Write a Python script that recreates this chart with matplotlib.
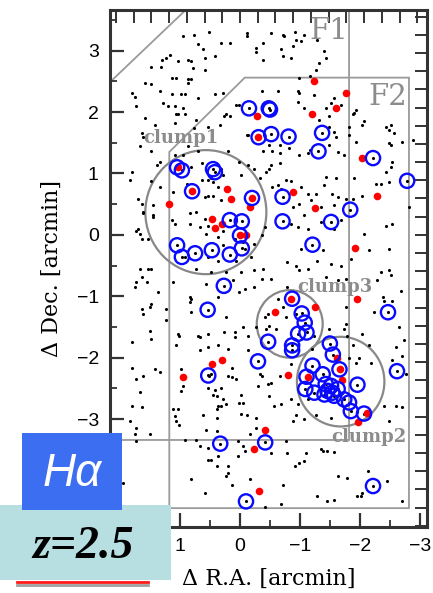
import numpy as np
import matplotlib
matplotlib.use('Agg')
import matplotlib.pyplot as plt
from matplotlib.patches import Circle, Polygon, Rectangle
from matplotlib.lines import Line2D

# galaxy positions [arcmin]
black_x = [0.51,-0.11,-0.11,0.76,0.95,0.31,0.17,0.70,-0.38,-0.27,-0.27,0.62,1.17,1.23,1.31,0.59,0.42,0.87,0.81,1.03,1.49,1.32,0.78,0.59,-0.38,
           1.14,1.06,0.87,0.81,1.59,0.87,1.48,1.34,1.81,1.76,1.14,0.98,0.92,0.42,0.28,0.70,1.28,1.73,1.20,1.09,0.95,1.06,1.03,0.92,1.59,0.73,1.42,1.09,0.76,0.53,0.34,0.23,1.64,1.62,
           -0.36,0.01,0.06,0.26,0.16,-0.11,-0.13,-0.38,
           1.67,1.48,1.09,0.95,0.87,0.70,1.34,1.39,1.81,1.84,1.48,0.81,0.64,0.31,0.28,0.20,0.01,-0.02,-0.13,-0.24,-0.33,-0.44,0.64,0.48,
           -0.52,-0.71,-0.74,-0.91,-1.07,-0.93,-1.02,-0.88,-0.68,-0.71,-0.85,-1.29,-1.41,-1.43,-1.32,-1.27,-0.99,-1.16,-0.63,-0.96,-0.99,-1.24,-0.96,-1.07,-1.57,-1.52,-1.68,-1.43,-1.49,-1.32,-1.49,-1.57,-1.60,-1.49,-1.63,-1.74,-0.99,-1.13,-1.16,-0.66,-0.49,-0.54,-0.66,-0.82,
           -1.88,-1.93,-1.91,-1.82,-1.82,-2.07,-2.04,-1.93,-2.43,-2.52,-2.49,-2.57,-2.49,-2.52,-2.71,-2.88,-2.54,-2.52,-2.43,-1.91,-1.43,-1.60,-0.77,-0.85,-0.49,-0.52,-0.66,
           1.34,1.12,0.89,1.70,1.64,1.45,1.62,1.62,1.45,1.45,1.70,1.73,1.67,1.64,1.53,1.14,1.09,0.84,0.73,0.59,0.53,0.45,0.37,0.31,0.59,0.53,0.84,0.56,0.37,0.28,0.67,0.45,0.53,
           0.92,0.53,0.37,0.28,0.09,-0.05,-0.08,0.06,-0.19,-0.24,-0.36,-0.41,-0.02,0.23,0.48,0.73,1.67,1.53,1.48,1.64,1.73,1.76,1.56,1.37,1.12,0.56,0.84,0.81,0.37,-0.08,-0.24,-0.36,-0.38,-0.24,0.12,0.01,
           1.64,1.62,1.51,1.48,1.23,1.23,1.51,1.48,1.01,1.03,0.70,0.67,0.53,0.26,0.23,-0.05,0.09,0.09,-0.13,-0.27,-0.44,-0.41,-0.47,0.84,0.81,0.67,0.53,0.37,0.20,-0.13,1.06,1.81,
           -0.54,-0.63,-0.68,-1.02,-1.13,-1.27,-1.41,-1.54,-1.63,-1.57,-1.35,-1.18,-0.99,-0.88,-1.07,-0.85,-0.96,-1.13,-1.35,-1.57,-1.68,-1.77,-1.88,-2.04,-2.27,-2.35,-2.49,-2.82,-2.54,-2.43,-2.07,
           -1.02,-1.38,-1.29,-0.79,-0.93,-0.99,-1.13,-1.52,-1.68,-1.43,-1.63,-1.77,-1.85,-2.16,-2.49,-2.35,-2.49,-2.52,-2.29,-2.68,-0.52,-0.79,-1.77,-2.38,-2.41,-2.54,-2.23,-2.66,-1.77,-1.74,-1.79,-1.49,-2.04,-2.16,-1.88,-2.60,-2.74,-0.63,-0.71,-0.77,-0.93,-0.99,-0.49,-0.60,-1.24,-1.21,
           1.81,1.62,1.73,1.42,1.34,1.67,1.81,1.64,1.84,1.73,1.76,1.51,1.74,0.99,0.95,0.98,1.12,1.03,1.09,1.06,1.01,0.92,0.73,0.67,0.53,0.62,0.39,0.37,0.31,0.23,0.39,0.39,0.56,0.53,0.42,0.45,0.39,0.31,0.28,0.20,0.14,0.06,0.14,0.01,-0.05,-0.02,-0.02,-0.11,-0.27,-0.27,-0.16,-0.33,-0.36,-0.30,
           0.03,-0.05,-0.08,0.03,0.53,0.48,0.37,0.39,0.20,0.20,0.23,0.14,-0.16,0.81,0.59,-0.41,1.95,0.51,0.48,
           -0.85,-0.66,-0.52,-0.46,-0.49,-0.57,-0.68,-0.85,-0.96,-0.93,-0.88,-1.07,-1.13,-1.27,-1.52,-0.77,-0.79,-1.10,-1.07,-0.99,-1.35,-1.38,-1.46,-1.57,-0.91,-0.52,-0.71,-1.29,-1.46,-1.57,-0.68,-1.63,-1.79,-1.96,-2.04,-2.02,-2.13,-2.46,-2.71,-2.41,-2.60,-2.49,-2.71,-2.77,-2.54,-2.71,-1.82,-1.99,-2.18,-1.93]
black_y = [3.31,3.29,3.23,3.26,3.23,3.12,3.12,3.10,3.12,3.04,2.98,3.02,2.93,2.88,2.85,2.88,2.91,2.85,2.83,2.83,2.73,2.73,2.72,2.69,2.85,
           2.56,2.56,2.53,2.53,2.47,2.47,2.45,2.35,2.31,2.25,2.29,2.29,2.29,2.29,2.31,2.23,2.15,2.09,2.09,2.09,2.06,1.96,1.96,1.96,1.90,1.87,1.79,1.82,1.74,1.76,1.79,1.96,1.66,1.60,
           2.35,2.12,2.12,1.93,1.93,1.63,1.63,1.36,
           1.44,1.36,1.30,1.30,1.44,1.36,1.19,1.14,1.03,0.89,0.87,1.11,1.17,1.08,0.98,1.36,1.19,0.98,1.14,1.08,0.92,1.03,0.89,0.92,
           3.29,3.26,3.23,3.31,3.26,3.18,3.15,3.07,3.02,2.91,2.88,3.18,2.99,2.88,2.80,2.69,2.55,2.58,2.34,2.34,2.31,2.28,2.17,2.06,2.23,2.15,2.12,2.06,1.93,1.87,1.76,1.68,1.60,1.47,1.35,1.30,1.30,1.33,1.38,1.47,1.47,1.36,1.33,1.41,
           1.96,2.04,1.98,1.76,1.63,1.85,1.79,1.52,1.76,1.79,1.71,1.66,1.49,1.47,1.52,1.55,1.19,1.11,1.03,0.92,0.95,0.92,0.90,0.87,1.08,1.14,1.17,
           0.78,0.70,0.83,0.59,0.51,0.48,0.37,0.35,0.32,0.29,0.10,0.07,0.02,-0.06,-0.06,0.24,0.18,0.35,0.37,0.62,0.64,0.64,0.78,0.56,0.26,0.15,0.18,0.02,-0.04,0.07,0.13,0.86,0.89,
           -0.36,-0.36,-0.42,-0.17,-0.06,-0.12,-0.23,-0.42,-0.36,-0.15,-0.01,0.13,-0.61,-0.61,-0.61,-0.55,-0.55,-0.55,-0.55,-0.69,-0.77,-0.85,-0.77,-0.93,-0.77,-0.80,-1.01,-1.04,-1.01,-0.88,-0.85,-0.72,-0.55,-0.58,-0.74,-0.93,
           -1.20,-1.29,-1.18,-1.12,-1.20,-1.39,-1.56,-1.69,-1.64,-1.61,-1.64,-1.67,-1.61,-1.59,-1.34,-1.50,-1.59,-1.67,-1.64,-1.50,-1.53,-1.34,-1.29,-1.10,-1.26,-1.88,-1.83,-1.80,-1.86,-1.88,-1.80,-1.75,
           0.78,0.81,0.75,0.78,0.67,0.67,0.81,0.67,0.62,0.48,0.45,0.56,0.51,0.45,0.32,0.18,0.13,0.10,0.21,0.10,0.24,0.59,0.59,0.64,0.83,0.83,0.86,0.45,0.18,0.15,0.02,
           -0.23,-0.25,-0.42,-0.44,-0.50,-0.58,-0.55,-0.47,-0.50,-0.69,-0.74,-0.72,-0.39,-0.25,-0.23,-0.61,-0.58,-0.66,-0.74,-0.91,-0.72,-0.85,-1.18,-1.01,-1.07,-1.07,-1.26,-1.50,-1.45,-1.53,-1.64,-1.53,-1.61,-1.80,-1.80,-1.83,-1.72,-1.04,-1.18,-1.34,-1.29,-1.50,-1.48,-1.53,-1.64,-1.86,
           -2.16,-2.30,-2.35,-2.19,-2.24,-2.56,-2.79,-2.80,-3.03,-3.14,-3.24,-3.24,-3.35,-2.18,-2.46,-2.54,-2.83,-2.84,-2.95,-3.03,-3.10,-3.34,-3.34,-3.44,-3.47,-2.93,-2.84,-2.78,-2.78,-2.76,-2.98,-3.19,-3.17,-2.49,-2.52,-2.60,-2.62,-2.49,-2.68,-2.30,-2.32,-2.35,-2.16,-2.73,-2.73,-2.61,-2.91,-2.93,-2.98,-3.14,-3.25,-2.27,-2.30,-2.46,
           -3.36,-3.44,-3.52,-3.60,-3.66,-3.66,-3.60,-3.76,-3.77,-3.88,-3.93,-4.07,-3.98,-3.98,-4.20,-4.43,-4.04,-2.30,-2.27,
           -2.11,-2.30,-2.41,-2.43,-2.62,-2.79,-2.76,-2.68,-2.76,-2.93,-3.03,-3.00,-2.68,-2.93,-2.98,-3.36,-3.55,-3.55,-3.68,-3.71,-3.49,-3.52,-3.52,-3.54,-3.76,-3.55,-4.07,-4.26,-4.34,-4.31,-4.39,-3.93,-3.96,-4.26,-4.20,-4.26,-3.85,-4.00,-4.34,-2.79,-2.79,-3.03,-2.81,-2.27,-2.03,-1.97,-2.00,-2.00,-2.08,-2.08]

# H-alpha emitters (blue circles)
ha_x = [1.05,0.97,0.45,0.42,0.80,-0.20,0.17,-0.03,0.00,1.05,0.97,0.75,0.47,0.17,-0.03,
        -0.15,-0.48,-0.50,-0.31,-0.52,-0.81,-1.37,-1.31,-2.22,-2.79,-0.71,-0.71,-1.52,-1.84,-1.21,
        0.27,0.54,-0.87,-1.03,-1.08,-1.11,-0.97,-0.47,-0.87,-0.87,-0.30,-2.47,-1.50,-1.55,
        -1.21,-1.38,-1.66,-1.11,-1.96,-1.09,-1.24,-1.43,-1.52,-1.46,-1.54,-1.63,-1.41,-1.57,-1.74,-1.82,-1.85,-2.07,-2.62,
        0.53,0.33,-0.42,-0.10,-2.22]
ha_y = [1.10,1.05,1.07,1.02,0.71,0.60,0.24,0.22,-0.01,-0.17,-0.36,-0.30,-0.25,-0.32,-0.22,
        2.06,2.06,2.04,1.59,1.64,1.60,1.66,1.36,1.25,0.88,0.62,0.22,0.21,0.41,-0.16,
        -0.83,-1.22,-1.04,-1.28,-1.43,-1.59,-1.61,-1.74,-1.80,-1.88,-2.06,-1.26,-1.77,-1.95,
        -2.13,-2.27,-2.19,-2.31,-2.44,-2.51,-2.57,-2.43,-2.46,-2.54,-2.57,-2.51,-2.60,-2.62,-2.68,-2.73,-2.87,-2.91,-2.22,
        -2.29,-3.40,-3.38,-4.34,-4.09]

# spectroscopic members (red dots)
spec_x = [-0.28,1.03,0.80,0.22,0.15,-0.20,-0.17,1.18,0.47,0.42,0.30,0.00,-0.10,-0.30,-1.24,-1.77,-1.60,-1.21,-2.04,
          -0.88,-1.26,-2.28,-1.92,-0.85,-0.58,-1.25,-1.95,-1.62,-1.67,-1.13,-1.70,-0.80,-2.12,-1.97,0.95,0.47,0.30,
          -0.41,-0.24,-0.32]
spec_y = [1.94,1.10,0.71,0.74,0.58,0.60,0.45,0.50,0.25,0.11,0.17,-0.01,-0.01,1.59,2.51,2.31,2.06,1.96,1.25,
          0.70,0.44,0.63,-0.21,-1.04,-1.26,-1.18,-1.05,-2.01,-2.19,-2.32,-2.37,-2.28,-2.90,-3.04,-2.31,-2.11,-2.04,
          -3.17,-3.48,-4.17]

# field outlines and clump circles
f1_x = [2.5, 0.65, -1.82, -1.82, 2.5]
f1_y = [2.18, 3.9, 3.9, -3.34, -3.34]
f2_x = [-0.08, -2.82, -2.82, 1.18, 1.18]
f2_y = [2.56, 2.56, -4.45, -4.45, 1.35]
clump_names = ['clump1', 'clump2', 'clump3']
clump_cx = [0.57, -1.68, -0.83]
clump_cy = [0.37, -2.39, -1.45]
clump_r = [1.01, 0.73, 0.55]
clump_lx = [0.98, -2.15, -1.58]
clump_ly = [1.58, -3.29, -0.85]

fig = plt.figure(figsize=(4.33, 5.93), dpi=100)
ax = fig.add_axes([0.254, 0.111, 0.732, 0.872])

gray = '#9a9a9a'
ax.add_patch(Polygon(list(zip(f1_x, f1_y)), closed=True, fill=False, ec=gray, lw=1.3, zorder=1))
ax.add_patch(Polygon(list(zip(f2_x, f2_y)), closed=True, fill=False, ec=gray, lw=1.3, zorder=1))
for i in range(len(clump_names)):
    ax.add_patch(Circle((clump_cx[i], clump_cy[i]), clump_r[i], fill=False, ec='#888888', lw=1.6, zorder=1))
    ax.text(clump_lx[i], clump_ly[i], clump_names[i], color='#8c8c8c', fontsize=13, fontweight='bold',
            family='DejaVu Serif', ha='center', va='center', zorder=2)
ax.text(-1.48, 3.32, 'F1', color='#8c8c8c', fontsize=21, family='DejaVu Serif', ha='center', va='center')
ax.text(-2.47, 2.24, 'F2', color='#8c8c8c', fontsize=21, family='DejaVu Serif', ha='center', va='center')

ax.scatter(black_x, black_y, s=5, c='black', linewidths=0, zorder=3)
ax.scatter(ha_x, ha_y, s=5, c='black', linewidths=0, zorder=3)
ax.scatter(spec_x, spec_y, s=30, c='#ff0000', linewidths=0, zorder=4)
ax.scatter(ha_x, ha_y, s=105, facecolors='none', edgecolors='#0a0aff', linewidths=1.7, zorder=5)

ax.set_xlim(2.17, -3.12)
ax.set_ylim(-4.76, 3.66)
ax.set_xticks([1, 0, -1, -2, -3])
ax.set_yticks([-3, -2, -1, 0, 1, 2, 3])
ax.set_xticks(np.arange(-3, 2.01, 0.5), minor=True)
ax.set_yticks(np.arange(-4.5, 3.51, 0.5), minor=True)
ax.tick_params(which='major', direction='in', length=10, width=1.6, color='#333333',
               labelsize=14, pad=8, top=False, right=False)
ax.tick_params(which='minor', direction='in', length=5, width=1.3, color='#333333', top=False, right=False)
for lab in ax.get_xticklabels() + ax.get_yticklabels():
    lab.set_family('Liberation Sans')
for sp in ax.spines.values():
    sp.set_linewidth(2.2)
    sp.set_color('#333333')

# physical-scale ticks on top / right
step = 0.296
secx = ax.secondary_xaxis('top')
secx.set_xticks(np.arange(-10, 8) * step)
secx.tick_params(direction='in', length=9, width=1.4, color='#333333', labeltop=False)
secx.set_xticklabels([])
secy = ax.secondary_yaxis('right')
secy.set_yticks(np.arange(-16, 13) * step)
secy.tick_params(direction='in', length=9, width=1.4, color='#333333', labelright=False)
secy.set_yticklabels([])
for s in [secx, secy]:
    for sp in s.spines.values():
        sp.set_visible(False)

ax.set_xlabel('Δ R.A. [arcmin]', family='DejaVu Serif', fontsize=16, labelpad=9)
ax.set_ylabel('Δ Dec. [arcmin]', family='DejaVu Serif', fontsize=16, labelpad=10)

# overlay labels
fig.patches.append(Rectangle((0.0, 0.022), 0.395, 0.126, transform=fig.transFigure,
                             fc='#b7dfe2', ec='none', zorder=5))
fig.patches.append(Rectangle((0.051, 0.140), 0.231, 0.130, transform=fig.transFigure,
                             fc='#3c6ef2', ec='none', zorder=6))
fig.lines.append(Line2D([0.039, 0.342], [0.0135, 0.0135], transform=fig.transFigure,
                        color='#a0a0a0', lw=2, zorder=6))
fig.lines.append(Line2D([0.039, 0.342], [0.0185, 0.0185], transform=fig.transFigure,
                        color='#ff1a1a', lw=2, zorder=7))
fig.text(0.166, 0.201, 'Hα', color='white', fontsize=33, style='italic',
         family='Liberation Sans', ha='center', va='center', zorder=8)
fig.text(0.192, 0.078, 'z=2.5', color='black', fontsize=33, style='italic', fontweight='bold',
         family='Liberation Serif', ha='center', va='center', zorder=8)

fig.savefig('out.png', dpi=100)
